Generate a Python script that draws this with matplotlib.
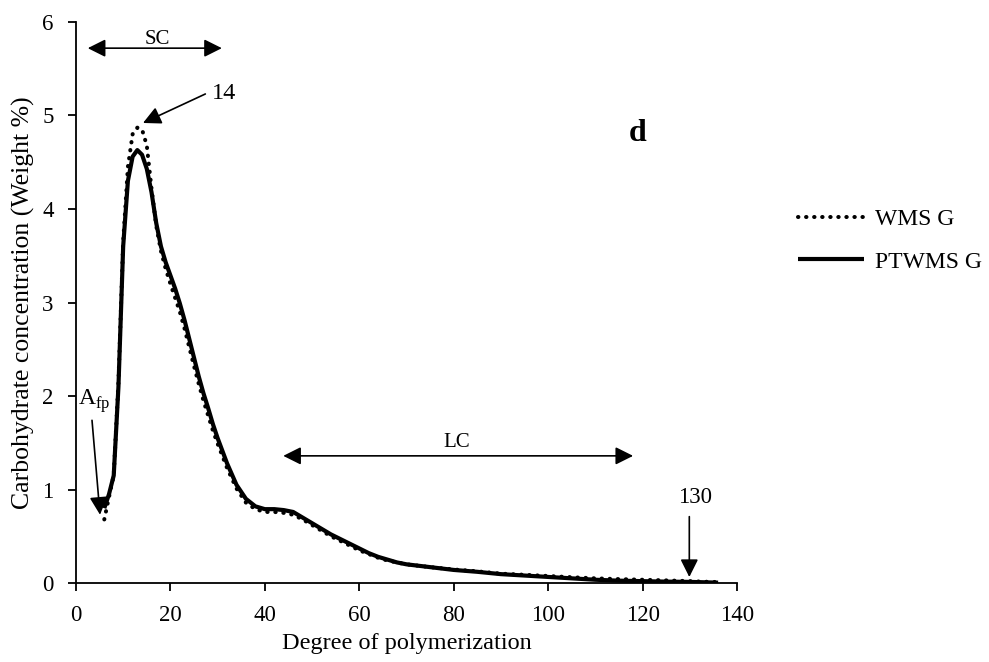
import matplotlib
matplotlib.use("Agg")
import matplotlib.pyplot as plt

plt.rcParams['font.family'] = ['Liberation Serif', 'DejaVu Serif']
plt.rcParams['mathtext.fontset'] = 'custom'
plt.rcParams['mathtext.rm'] = 'Liberation Serif'

# Degree of polymerization and carbohydrate concentration (weight %)
dp = [6, 7, 8, 9, 10, 11, 12, 13, 14, 15, 16, 17, 18, 19, 20, 21, 22, 23, 24,
      25, 26, 27, 28, 29, 30, 32, 34, 36, 38, 40, 42, 44, 46, 48, 50, 52, 54,
      56, 58, 60, 62, 64, 66, 68, 70, 75, 80, 85, 90, 95, 100, 105, 110, 115,
      120, 125, 130, 133, 136]

wms_g = [0.68, 0.92, 1.15, 2.15, 3.65, 4.45, 4.80, 4.87, 4.85, 4.68, 4.22, 3.82,
         3.55, 3.36, 3.20, 3.05, 2.90, 2.72, 2.52, 2.32, 2.13, 1.95, 1.79, 1.63,
         1.49, 1.23, 1.01, 0.86, 0.79, 0.76, 0.76, 0.75, 0.73, 0.68, 0.62, 0.56,
         0.50, 0.45, 0.40, 0.35, 0.31, 0.27, 0.24, 0.22, 0.20, 0.17, 0.145,
         0.125, 0.10, 0.088, 0.075, 0.062, 0.05, 0.042, 0.035, 0.028, 0.02,
         0.014, 0.01]

ptwms_g = [0.80, 0.95, 1.15, 2.10, 3.60, 4.30, 4.56, 4.63, 4.58, 4.43, 4.18,
           3.85, 3.60, 3.43, 3.29, 3.15, 2.99, 2.81, 2.61, 2.41, 2.21, 2.03,
           1.87, 1.70, 1.55, 1.28, 1.05, 0.90, 0.82, 0.79, 0.79, 0.78, 0.76,
           0.70, 0.64, 0.58, 0.52, 0.47, 0.42, 0.37, 0.32, 0.28, 0.25, 0.22,
           0.20, 0.17, 0.14, 0.12, 0.095, 0.08, 0.065, 0.05, 0.035, 0.025, 0.02,
           0.015, 0.012, 0.008, 0.004]

fig = plt.figure(figsize=(9.89, 6.62), dpi=100)
ax = fig.add_axes([0.0768, 0.1193, 0.6684, 0.8475])

ax.plot(dp, wms_g, color='black', linewidth=2.9, linestyle=(0, (0.1, 1.9)),
        dash_capstyle='round', solid_joinstyle='round', label='WMS G')
ax.plot(dp, ptwms_g, color='black', linewidth=3.0, label='PTWMS G',
        solid_capstyle='butt', solid_joinstyle='round')

ax.set_xlim(0, 140)
ax.set_ylim(0, 6)
ax.set_xticks(range(0, 141, 20))
ax.set_yticks(range(0, 7))
ax.spines['top'].set_visible(False)
ax.spines['right'].set_visible(False)
for s in ('left', 'bottom'):
    ax.spines[s].set_linewidth(1.3)
ax.tick_params(axis='both', direction='out', length=6, width=1.3,
               labelsize=16.5, pad=10)
ax.set_xlabel('Degree of polymerization', fontsize=17.5, labelpad=5)
ax.set_ylabel('Carbohydrate concentration (Weight %)', fontsize=18.5,
              labelpad=5)

head = '-|>,head_length=0.4,head_width=0.2'
arrow = dict(arrowstyle=head, color='black', lw=1.2, mutation_scale=27,
             shrinkA=0, shrinkB=0)
double = dict(arrowstyle='<|-|>,head_length=0.4,head_width=0.2', color='black',
              lw=1.2, mutation_scale=27, shrinkA=0, shrinkB=0)

# Short-chain region
ax.annotate('', xy=(2.5, 5.72), xytext=(30.9, 5.72), arrowprops=double)
ax.text(17.2, 5.81, 'SC', ha='center', va='center', fontsize=15)

# Peak label
ax.annotate('', xy=(14.2, 4.92), xytext=(27.4, 5.23), arrowprops=arrow)
ax.text(31.4, 5.24, '14', ha='center', va='center', fontsize=17.5)

# First-point label
ax.annotate('', xy=(5.1, 0.73), xytext=(3.4, 1.74), arrowprops=arrow)
ax.text(3.8, 1.94, r'A$_{\mathrm{fp}}$', ha='center', va='center', fontsize=17)

# Long-chain region
ax.annotate('', xy=(43.9, 1.36), xytext=(118, 1.36), arrowprops=double)
ax.text(80.7, 1.50, 'LC', ha='center', va='center', fontsize=15)

# Last-point label
ax.annotate('', xy=(129.9, 0.064), xytext=(129.9, 0.71), arrowprops=arrow)
ax.text(131.1, 0.91, '130', ha='center', va='center', fontsize=16.5)

ax.text(118.9, 4.81, 'd', fontsize=23, fontweight='bold', ha='center',
        va='center')

fig.legend(loc='center left', bbox_to_anchor=(0.807, 0.6367), frameon=False,
           fontsize=17, handlelength=2.8, handletextpad=0.45, labelspacing=0.9,
           borderpad=0, borderaxespad=0)

fig.savefig('out.png', dpi=100)
